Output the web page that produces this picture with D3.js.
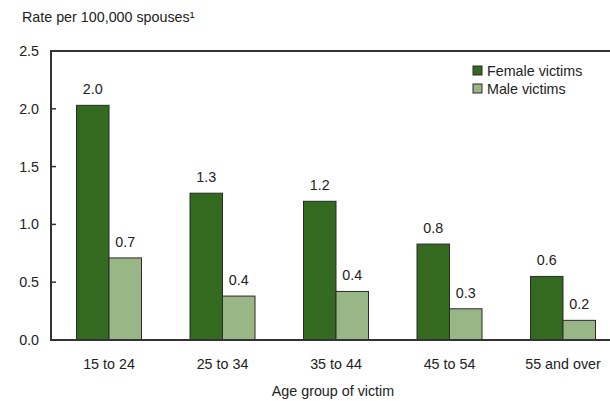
<!DOCTYPE html>
<html>
<head>
<meta charset="utf-8">
<script src="https://cdn.jsdelivr.net/npm/d3@7"></script>
<style>
    body { margin: 0; background: #fff; }
    svg { display: block; font-family: "Liberation Sans", Arial, sans-serif; }
    text { fill: #222; font-size: 14.3px; }
</style>
</head>
<body>
<svg id="chart" width="610" height="401"></svg>
<script>
// data
const ageGroups = ["15 to 24", "25 to 34", "35 to 44", "45 to 54", "55 and over"];
const femaleRates = [2.03, 1.27, 1.20, 0.83, 0.55];
const maleRates = [0.71, 0.38, 0.42, 0.27, 0.17];
const femaleLabels = ["2.0", "1.3", "1.2", "0.8", "0.6"];
const maleLabels = ["0.7", "0.4", "0.4", "0.3", "0.2"];
const yTicks = [0, 0.5, 1.0, 1.5, 2.0, 2.5];
const seriesNames = ["Female victims", "Male victims"];

const colors = { female: "#336a1f", male: "#99b786" };
const svg = d3.select("#chart");

const plotL = 51, plotT = 51, plotB = 340, plotR = 610;

const x = d3.scalePoint().domain(ageGroups).range([109, 563]);
const xSub = d3.scaleBand().domain(["female", "male"]).range([-32.5, 32.5]);
const y = d3.scaleLinear().domain([0, 2.5]).range([plotB, plotT]);

const rows = ageGroups.map((g, i) => ({
    group: g,
    bars: [
        { key: "female", v: femaleRates[i], label: femaleLabels[i] },
        { key: "male", v: maleRates[i], label: maleLabels[i] }
    ]
}));

// y axis title
svg.append("text")
    .attr("x", 22).attr("y", 22)
    .text("Rate per 100,000 spouses¹");

// bars
const grp = svg.append("g")
    .selectAll("g")
    .data(rows)
    .enter()
    .append("g")
    .attr("transform", d => `translate(${x(d.group)},0)`);

grp.selectAll("rect")
    .data(d => d.bars)
    .enter()
    .append("rect")
    .attr("x", d => xSub(d.key))
    .attr("y", d => y(d.v))
    .attr("width", xSub.bandwidth())
    .attr("height", d => y(0) - y(d.v))
    .attr("fill", d => colors[d.key])
    .attr("stroke", "#2b2b2b")
    .attr("stroke-width", 1);

grp.selectAll("text.val")
    .data(d => d.bars)
    .enter()
    .append("text")
    .attr("class", "val")
    .attr("x", d => xSub(d.key) + xSub.bandwidth() / 2)
    .attr("y", d => y(d.v) - 11)
    .attr("text-anchor", "middle")
    .text(d => d.label);

// frame: top, left, bottom
const frame = svg.append("g").attr("stroke", "#333").attr("stroke-width", 2).attr("fill", "none");
frame.append("path").attr("d", `M${plotR},${plotT}H${plotL}V${plotB}H${plotR}`);

// y ticks (inward) and labels
const yAxis = svg.append("g");
yAxis.selectAll("line")
    .data(yTicks.slice(1, -1))
    .enter()
    .append("line")
    .attr("x1", plotL).attr("x2", plotL + 5)
    .attr("y1", d => y(d)).attr("y2", d => y(d))
    .attr("stroke", "#333").attr("stroke-width", 1.5);
yAxis.selectAll("text")
    .data(yTicks)
    .enter()
    .append("text")
    .attr("x", 39)
    .attr("y", d => y(d))
    .attr("dy", "0.35em")
    .attr("text-anchor", "end")
    .text(d => d.toFixed(1));

// x labels
svg.append("g")
    .selectAll("text")
    .data(ageGroups)
    .enter()
    .append("text")
    .attr("x", d => x(d))
    .attr("y", 369)
    .attr("text-anchor", "middle")
    .text(d => d);

svg.append("text")
    .attr("x", 333)
    .attr("y", 396)
    .attr("text-anchor", "middle")
    .text("Age group of victim");

// legend
const legend = svg.append("g")
    .selectAll("g")
    .data(seriesNames)
    .enter()
    .append("g")
    .attr("transform", (d, i) => `translate(473,${66 + i * 18})`);
legend.append("rect")
    .attr("width", 9).attr("height", 9)
    .attr("fill", (d, i) => i === 0 ? colors.female : colors.male)
    .attr("stroke", "#2b2b2b").attr("stroke-width", 1);
legend.append("text")
    .attr("x", 14).attr("y", 9.5)
    .text(d => d);
</script>
</body>
</html>
